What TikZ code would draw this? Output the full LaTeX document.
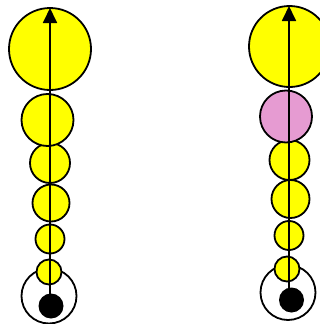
\documentclass[tikz,border=0pt]{standalone}
\usetikzlibrary{arrows.meta}

\definecolor{cellyellow}{RGB}{255,255,0}
\definecolor{cellpink}{RGB}{230,155,210}

\tikzset{
  ball/.style={circle,draw,line width=1.8pt,inner sep=0pt,fill=cellyellow},
  shell/.style={circle,draw,line width=1.8pt,inner sep=0pt,fill=white,minimum size=55pt},
  core/.style={circle,fill=black,inner sep=0pt,minimum size=25pt},
  axis/.style={line width=1.8pt,-{Triangle[length=15pt,width=14pt]}}
}

\begin{document}
\begin{tikzpicture}[x=1pt,y=-1pt]

	\useasboundingbox (0,0) rectangle (320,324);
	\clip (0,0) rectangle (320,324);

	% left stack
	\node[shell] (lshell) at (49,296) {};
	\node[ball,minimum size=25pt] (l1) at (49,272) {};
	\node[ball,minimum size=29pt] (l2) at (50,239) {};
	\node[ball,minimum size=37pt] (l3) at (51,203) {};
	\node[ball,minimum size=40pt] (l4) at (50,163) {};
	\node[ball,minimum size=52pt] (l5) at (47.5,120) {};
	\node[ball,minimum size=82pt] (l6) at (50,49) {};
	\node[core] (ldot) at (51,306) {};
	\coordinate (ltop) at (50,8);
	\draw[axis] (ltop |- ldot.center) -- (ltop);

	% right stack
	\node[shell] (rshell) at (288,292.5) {};
	\node[ball,minimum size=25pt] (r1) at (287,269) {};
	\node[ball,minimum size=29pt] (r2) at (289,235.5) {};
	\node[ball,minimum size=38pt] (r3) at (290.5,199) {};
	\node[ball,minimum size=40pt] (r4) at (289.5,160) {};
	\node[ball,fill=cellpink,minimum size=52pt] (r5) at (286,116.5) {};
	\node[ball,minimum size=81pt] (r6) at (289.5,46.5) {};
	\node[core] (rdot) at (291.5,300) {};
	\coordinate (rtop) at (289,6);
	\draw[axis] (rtop |- rdot.center) -- (rtop);

\end{tikzpicture}
\end{document}
